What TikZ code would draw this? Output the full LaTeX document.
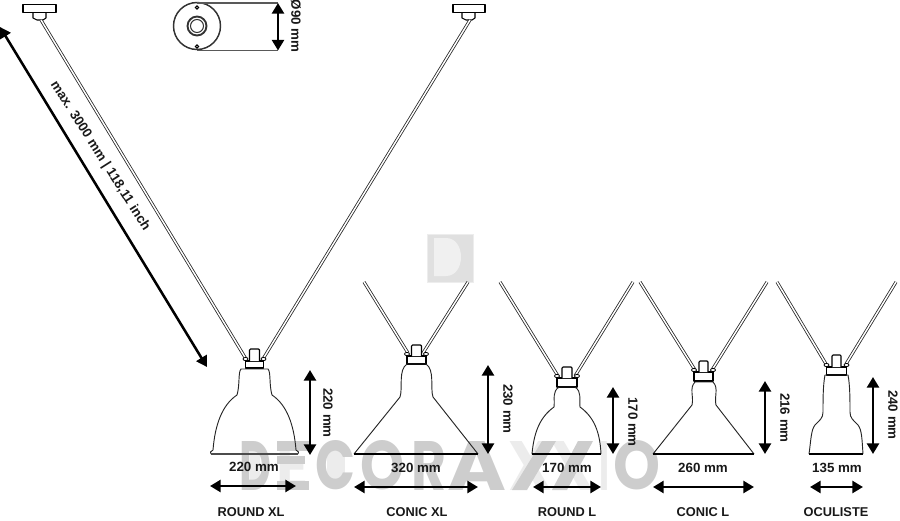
\documentclass[tikz,border=0pt]{standalone}
\usepackage{fontspec}
\setmainfont{Liberation Sans}
\newfontfamily\wmfont{Poppins}
\usetikzlibrary{arrows.meta}
\tikzset{
 x=0.75pt,y=-0.75pt,
 shade line/.style={draw=black,line width=0.8pt,fill=white,line join=round},
 lamp line/.style={draw=black!85,line width=0.7pt,line join=round,fill=none},
 rim line/.style={draw=black,line width=1.1pt},
 armline/.style={draw=black!85,double=white,double distance=1.1pt,line width=0.6pt},
 dimarrow/.style={draw=black,line width=1.9pt,{Triangle[length=8pt,width=9pt]}-{Triangle[length=8pt,width=9pt]}},
 lab/.style={font=\bfseries\fontsize{10pt}{12pt}\selectfont,inner sep=0pt,text=black!90},
 name lab/.style={font=\bfseries\fontsize{9.6pt}{12pt}\selectfont,inner sep=0pt,text=black!90},
 wml/.style={inner sep=0pt,text=wm,anchor=center},
 joint/.style={draw=black,line width=0.6pt,fill=white},
}
\definecolor{wm}{HTML}{CDCDCD}
\definecolor{wmpale}{HTML}{ECECEC}
\newcommand{\wmletter}[4]{% name, x0, x1, letter
 \node[wml] (#1) at ({(#2+#3)/2},465.5) {\resizebox{\dimexpr 0.75pt*(#3-#2)\relax}{36.75pt}{\wmfont\bfseries #4}};}
\newcommand{\fitting}[6]{% cx, socket top, socket bottom, half width socket, cap top, cap half
 \draw[shade line] (#1-#4,#2) rectangle (#1+#4,#3);
 \draw[shade line] (#1-#6,#2) -- (#1-#6,#5+1) -- (#1-#6+1,#5) -- (#1+#6-1,#5) -- (#1+#6,#5+1) -- (#1+#6,#2);
 \draw[joint] (#1-#4,#2-2) ellipse[x radius=2.5,y radius=1.6];
 \draw[joint] (#1+#4,#2-2) ellipse[x radius=2.5,y radius=1.6];
}
\begin{document}
\begin{tikzpicture}
\useasboundingbox (0,0) rectangle (900,521);
% watermark
\fill[wmpale] (250,451) rectangle (260,480);
\fill[wmpale] (327,451) rectangle (345,480);
\node[wml,text=wmpale] (wEp) at (293,465.5) {\resizebox{\dimexpr 0.75pt*32\relax}{36.75pt}{\wmfont\bfseries E}};
\node[wml,text=wmpale] (wX1) at (531,465.5) {\resizebox{\dimexpr 0.75pt*44\relax}{36.75pt}{\wmfont\bfseries X}};
\node[wml,text=wmpale] (wX2) at (572,465.5) {\resizebox{\dimexpr 0.75pt*44\relax}{36.75pt}{\wmfont\bfseries X}};
\node[wml,text=wmpale] (wI) at (604,465.5) {\resizebox{\dimexpr 0.75pt*10\relax}{36.75pt}{\wmfont\bfseries I}};
\fill[wm] (277,441) rectangle (309,451);
\fill[wm] (277,456) rectangle (305,464);
\fill[wm] (277,481) rectangle (309,490);
\wmletter{wD}{239}{271}{D}
\wmletter{wC}{315}{355}{C}
\wmletter{wO}{360}{404}{O}
\wmletter{wR}{411}{446}{R}
\wmletter{wA}{448}{507}{A}
\fill[wm] (512,490)--(527,490)--(556,441)--(542,441)--cycle;
\fill[wm] (552,490)--(567,490)--(593,441)--(578,441)--cycle;
\wmletter{wOb}{613}{660}{O}
% logo
\fill[black!12] (427,234) rectangle (473,282);
\draw[black!7,line width=0.75pt] (427,234) rectangle (473,282);
\fill[black!6] (434,238) -- (446,238) .. controls (466,238) and (466,276) .. (446,276) -- (434,276) -- cycle;
% ceiling mounts
\draw[shade line,line width=1pt] (23,4.5) rectangle (56,12.5);
\draw[shade line] (33,13) -- (33,18) -- (37,20) -- (43,20) -- (46,18) -- (46,13);
\draw[shade line,line width=1pt] (453,4.5) rectangle (485,12.5);
\draw[shade line] (462,13) -- (462,18) -- (466,20) -- (472,20) -- (475,18) -- (475,13);
% top view
\draw[black!80,line width=1.1pt] (197,26) circle[radius=23.5];
\draw[black!80,line width=1.4pt] (197,26) circle[radius=9.5];
\draw[black!80,line width=0.8pt] (197,26) circle[radius=6.5];
\draw[black,line width=0.7pt,fill=white] (197,7.5) circle[radius=1.6];
\draw[black,line width=0.7pt,fill=white] (197,46.5) circle[radius=1.6];
\coordinate (tvA) at (197,3);\coordinate (tvB) at (278,3);
\coordinate (tvC) at (197,50.5);\coordinate (tvD) at (278,50.5);
\draw[black!65,line width=1.1pt] (tvA)--(tvB);
\draw[black!65,line width=1.1pt] (tvC)--(tvD);
\draw[dimarrow] (tvB)--(tvD);
\node[lab,rotate=-90] (d90) at (296,26) {Ø90 mm};
% long arrow
\coordinate (laA) at (0,27);\coordinate (laB) at (207,367);
\draw[dimarrow] (laA)--(laB);
\node[lab,rotate=-57.5] (maxlab) at (100,156) {max. 3000 mm | 118,11 inch};
% arms
\draw[armline] (41,20)--(246,359);
\draw[armline] (470,20)--(263,359);
\draw[armline] (364,282)--(408,353);
\draw[armline] (468,282)--(423,353);
\draw[armline] (500,282)--(558,376);
\draw[armline] (633,282)--(575,376);
\draw[armline] (640,282)--(695,370);
\draw[armline] (767,282)--(712,370);
\draw[armline] (777,282)--(826,364);
\draw[armline] (896,282)--(846,364);
% ROUND XL
\fitting{254.5}{361}{368}{9}{349}{5}
\draw[lamp line] (211,454) .. controls (209,453) and (211,451) .. (213,450)
  .. controls (215,425) and (222,405) .. (237,395)
  .. controls (240,385) and (238,372) .. (241,369) -- (268,369)
  .. controls (271,372) and (269,385) .. (272,395)
  .. controls (287,405) and (294,425) .. (296,450)
  .. controls (298,451) and (300,453) .. (298,454);
\draw[rim line,draw=black!70] (211,454)--(298,454);
\coordinate (a1v) at (310,370);\coordinate (b1v) at (310,455);
\draw[dimarrow] (a1v)--(b1v);
\node[lab,rotate=-90] (l1v) at (328,413) {220 mm};
\node[lab] (l1h) at (254,467) {220 mm};
\coordinate (a1h) at (210,486);\coordinate (b1h) at (296,486);
\draw[dimarrow] (a1h)--(b1h);
\node[name lab] (n1) at (251,512) {ROUND XL};
% CONIC XL
\fitting{416.5}{356}{364}{9.5}{345}{5}
\draw[lamp line] (354,454)
  -- (400,397) .. controls (403,388) and (398,370) .. (407,364) -- (426,364)
  .. controls (435,370) and (430,388) .. (433,397) -- (478,454);
\draw[rim line] (354,454)--(478,454);
\coordinate (a2v) at (488,365);\coordinate (b2v) at (488,454);
\draw[dimarrow] (a2v)--(b2v);
\node[lab,rotate=-90] (l2v) at (508,409) {230 mm};
\node[lab] (l2h) at (416,468) {320 mm};
\coordinate (a2h) at (354,487);\coordinate (b2h) at (478,487);
\draw[dimarrow] (a2h)--(b2h);
\node[name lab] (n2) at (417,512) {CONIC XL};
% ROUND L
\fitting{567}{378}{387}{10}{367}{5}
\draw[lamp line] (532,454)
  .. controls (534,432) and (540,417) .. (554,407)
  .. controls (555,398) and (552,392) .. (559,387) -- (575,387)
  .. controls (582,392) and (579,398) .. (580,407)
  .. controls (594,417) and (600,432) .. (601,454);
\draw[rim line] (532,454)--(601,454);
\coordinate (a3v) at (613,387);\coordinate (b3v) at (613,454);
\draw[dimarrow] (a3v)--(b3v);
\node[lab,rotate=-90] (l3v) at (633,422) {170 mm};
\node[lab] (l3h) at (567,468) {170 mm};
\coordinate (a3h) at (533,487);\coordinate (b3h) at (601,487);
\draw[dimarrow] (a3h)--(b3h);
\node[name lab] (n3) at (567,512) {ROUND L};
% CONIC L
\fitting{703.5}{372}{381}{9.5}{361}{4.5}
\draw[lamp line] (653,454)
  -- (692,405) .. controls (694,397) and (689,388) .. (695,382) -- (713,382)
  .. controls (719,388) and (714,397) .. (716,405) -- (754,454);
\draw[rim line] (653,454)--(754,454);
\coordinate (a4v) at (765,381);\coordinate (b4v) at (765,454);
\draw[dimarrow] (a4v)--(b4v);
\node[lab,rotate=-90] (l4v) at (785,418) {216 mm};
\node[lab] (l4h) at (703,468) {260 mm};
\coordinate (a4h) at (653,487);\coordinate (b4h) at (754,487);
\draw[dimarrow] (a4h)--(b4h);
\node[name lab] (n4) at (703,512) {CONIC L};
% OCULISTE
\fitting{836.5}{367}{375}{10}{355}{4.5}
\draw[lamp line] (809,454)
  .. controls (811,440) and (811,430) .. (815,425)
  .. controls (820,420) and (823,418) .. (823,412)
  .. controls (823,400) and (823,385) .. (825,375) -- (848,375)
  .. controls (850,385) and (850,400) .. (850,412)
  .. controls (850,418) and (853,420) .. (858,425)
  .. controls (862,430) and (862,440) .. (863,454);
\draw[rim line] (809,454)--(863,454);
\coordinate (a5v) at (873,377);\coordinate (b5v) at (873,454);
\draw[dimarrow] (a5v)--(b5v);
\node[lab,rotate=-90] (l5v) at (893,415) {240 mm};
\node[lab] (l5h) at (837,468) {135 mm};
\coordinate (a5h) at (810,487);\coordinate (b5h) at (863,487);
\draw[dimarrow] (a5h)--(b5h);
\node[name lab] (n5) at (836,512) {OCULISTE};
\end{tikzpicture}
\end{document}
